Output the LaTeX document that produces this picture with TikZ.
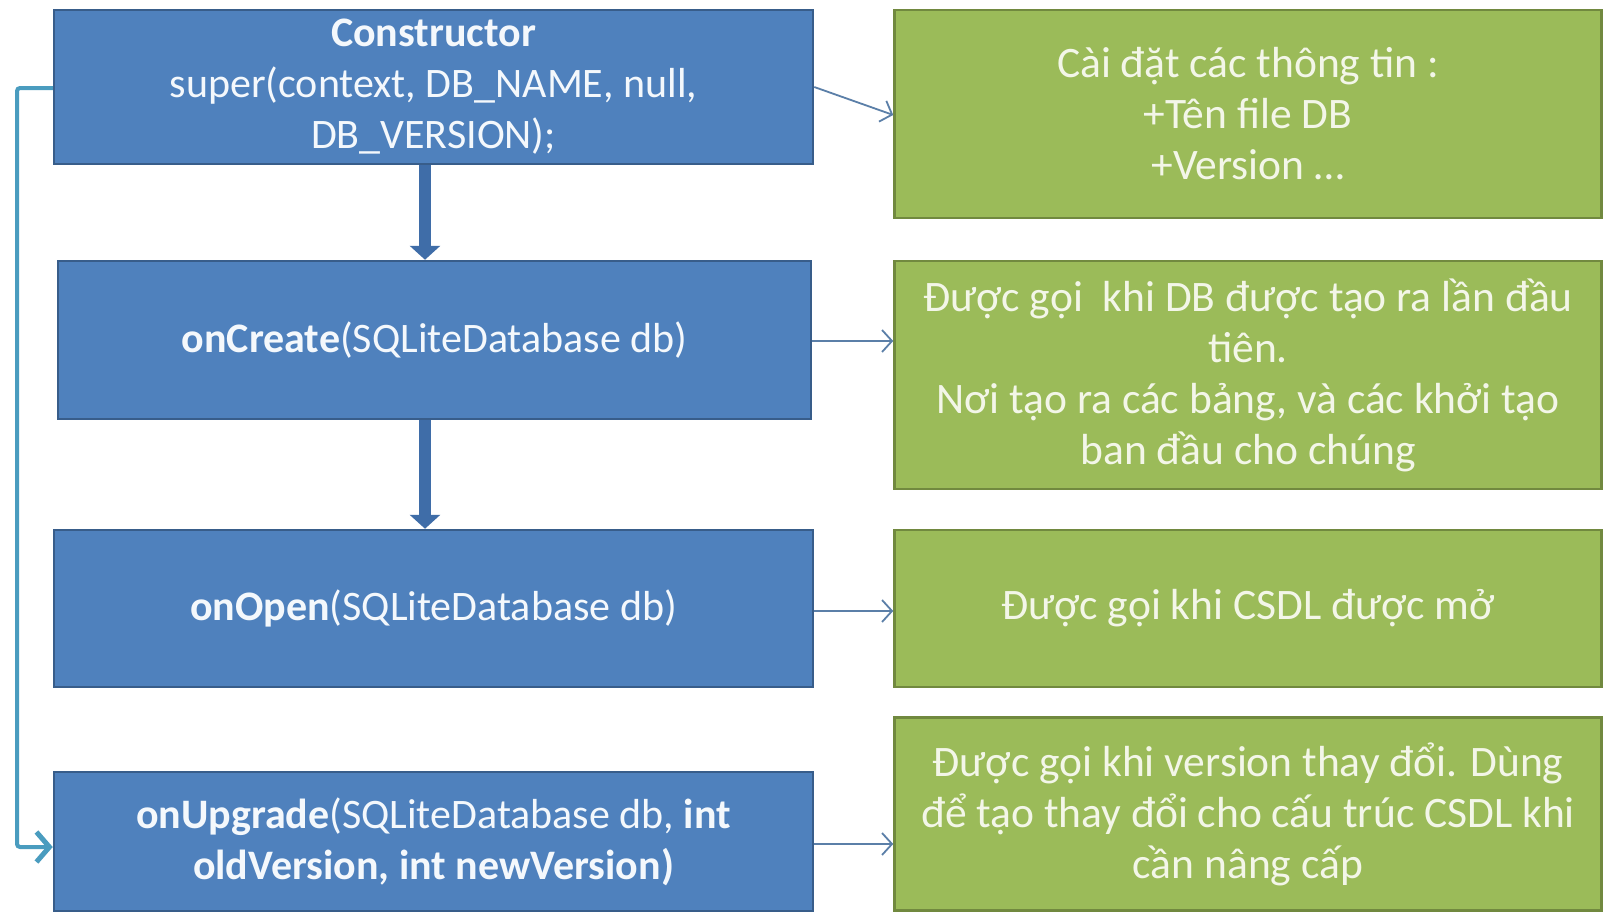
\documentclass[tikz,border=0pt]{standalone}
\usepackage{fontspec}
\setmainfont{Carlito}
\usetikzlibrary{arrows.meta}
\definecolor{bluefill}{HTML}{4F81BD}
\definecolor{blueline}{HTML}{385D8A}
\definecolor{greenfill}{HTML}{9BBB59}
\definecolor{greenline}{HTML}{71893F}
\definecolor{bluetext}{HTML}{F4F8FC}
\definecolor{greentext}{HTML}{F3F6E8}
\definecolor{thinarrow}{HTML}{5B7FA8}
\definecolor{thickarrow}{HTML}{3F6DA8}
\definecolor{loopline}{HTML}{4A9CBF}
\begin{document}
\begin{tikzpicture}[x=1pt,y=-1pt,
  bluebox/.style={draw=blueline,fill=bluefill,line width=2.5pt,inner sep=0pt,align=center,
    text=bluetext,font=\fontsize{42}{51}\selectfont},
  greenbox/.style={draw=greenline,fill=greenfill,line width=2.5pt,inner sep=0pt,align=center,
    text=greentext,font=\fontsize{43.5}{51}\selectfont},
  thin/.style={draw=thinarrow,line width=1.8pt,-{Straight Barb[length=10pt,width=22pt,line width=1.8pt]}},
  thick/.style={draw=thickarrow,line width=12pt,-{Triangle[length=14pt,width=30pt]}},
  loopconn/.style={draw=loopline,line width=4pt,rounded corners=3pt,-{Straight Barb[length=13pt,width=30pt,line width=5pt]}}
]
\useasboundingbox (0,0) rectangle (1604,913);
\fill[white] (0,0) rectangle (1604,913);

\node[bluebox,minimum width=759pt,minimum height=154pt] (ctor) at (433.5,87)
  {\textbf{Constructor}\\super(context, DB\_NAME, null,\\DB\_VERSION);};
\node[bluebox,minimum width=753pt,minimum height=158pt] (create) at (434.5,340)
  {\textbf{onCreate}(SQLiteDatabase db)};
\node[bluebox,minimum width=759pt,minimum height=157pt] (open) at (433.5,608.5)
  {\textbf{onOpen}(SQLiteDatabase db)};
\node[bluebox,minimum width=759pt,minimum height=139pt] (upgrade) at (433.5,841.5)
  {\textbf{onUpgrade}(SQLiteDatabase db, \textbf{int}\\\textbf{oldVersion, int newVersion)}};

\node[greenbox,minimum width=707pt,minimum height=208pt] (g1) at (1248,114)
  {Cài đặt các thông tin :\\+Tên file DB\\+Version …};
\node[greenbox,minimum width=707pt,minimum height=228pt] (g2) at (1248,375)
  {Được gọi\ \ khi DB được tạo ra lần đầu\\tiên.\\Nơi tạo ra các bảng, và các khởi tạo\\ban đầu cho chúng};
\node[greenbox,minimum width=707pt,minimum height=157pt] (g3) at (1248,608.5)
  {Được gọi khi CSDL được mở};
\node[greenbox,minimum width=707pt,minimum height=193pt] (g4) at (1248,814)
  {Được gọi khi version thay đổi. Dùng\\để tạo thay đổi cho cấu trúc CSDL khi\\cần nâng cấp};

\draw[thick] (ctor.south -| 425,0) -- (create.north -| 425,0);
\draw[thick] (create.south -| 425,0) -- (open.north -| 425,0);

\draw[thin] (ctor.east |- 0,87) -- (g1.west |- 0,115);
\draw[thin] (create.east |- 0,341) -- (g2.west |- 0,341);
\draw[thin] (open.east |- 0,611) -- (g3.west |- 0,611);
\draw[thin] (upgrade.east |- 0,844) -- (g4.west |- 0,844);

\coordinate (lt) at (17,88);
\coordinate (lb) at (17,847);
\draw[loopconn] (ctor.west |- 0,88) -- (lt) -- (lb) -- (upgrade.west |- 0,847);
\end{tikzpicture}
\end{document}
